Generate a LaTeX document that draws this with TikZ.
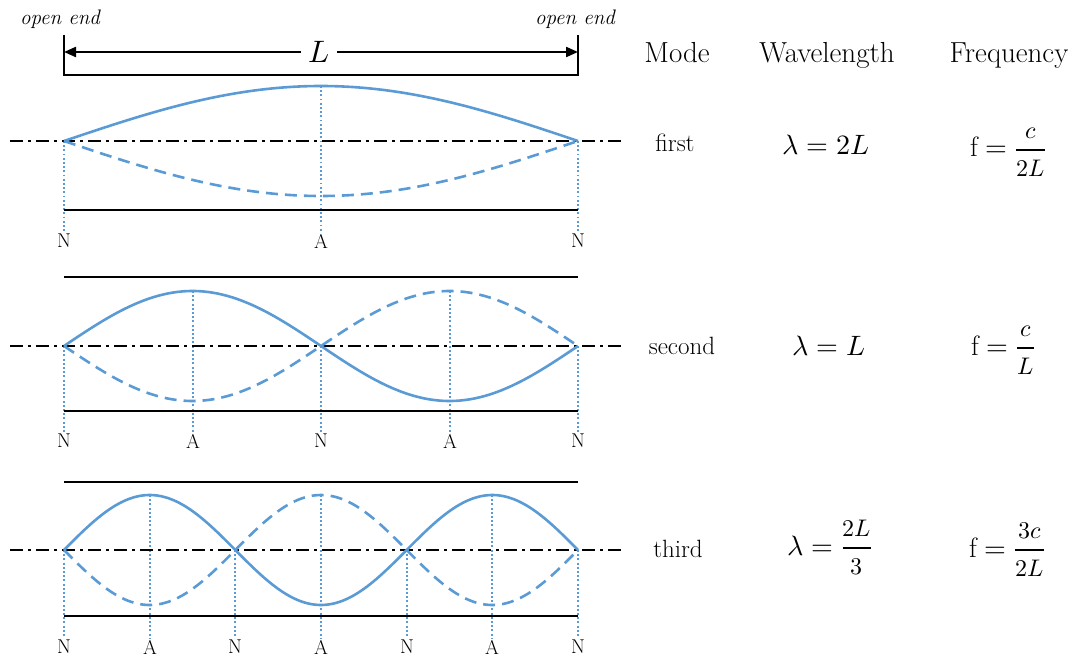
\documentclass[tikz,border=0pt]{standalone}
\usepackage{amsmath}
\usepackage{unicode-math}
\usetikzlibrary{arrows.meta}
\definecolor{wavblue}{RGB}{91,155,213}
\newcommand{\wfrac}[2]{\dfrac{\mbox{\fontsize{24}{26}\selectfont$#1$}}{\mbox{\fontsize{24}{26}\selectfont$#2$}}}
\tikzset{
  wave/.style={draw=wavblue,line width=2.6pt},
  wavedash/.style={wave,dash pattern=on 12pt off 7pt},
  axisline/.style={draw=black,line width=1.8pt,
    dash pattern=on 13pt off 5pt on 3pt off 5pt},
  tubeline/.style={draw=black,line width=2.5pt},
  guide/.style={draw=wavblue,line width=1.9pt,dash pattern=on 1.9pt off 2.3pt},
  dimline/.style={draw=black,line width=2.2pt},
  ptlabel/.style={font=\fontsize{20}{22}\selectfont,inner sep=0pt},
  endlabel/.style={font=\fontsize{21}{24}\selectfont\itshape,inner sep=0pt},
  headlabel/.style={font=\fontsize{29}{33}\selectfont,inner sep=0pt,anchor=base},
  modelabel/.style={font=\fontsize{25}{28}\selectfont,inner sep=0pt,anchor=base},
  eqlabel/.style={font=\fontsize{28}{32}\selectfont,inner sep=0pt,anchor=base},
}

\begin{document}
\begin{tikzpicture}[x=1pt,y=-1pt]
  \useasboundingbox (0,0) rectangle (1086,660);
  \node[endlabel] (lend) at (60,19) {open end};
  \node[endlabel] (rend) at (575,19) {open end};
  \coordinate (ltop) at (64,35);
  \coordinate (lbot) at (64,75);
  \coordinate (rtop) at (578,35);
  \coordinate (rbot) at (578,75);
  \coordinate (larr) at (64,52);
  \coordinate (rarr) at (578,52);
  \draw[dimline] (ltop) -- (lbot) -- (rbot) -- (rtop);
  \draw[dimline,{Triangle[length=12pt,width=10pt]}-{Triangle[length=12pt,width=10pt]}] (larr) -- (rarr);
  \node[font=\fontsize{31}{34}\selectfont,fill=white,inner xsep=7pt,inner ysep=2pt] (len) at (319,52) {$L$};
  \draw[tubeline] (64,277) -- (578,277);
  \draw[tubeline] (64,482) -- (578,482);
  \foreach \ay/\n/\bot/\lab in {141/1/210/241, 346/2/411/441, 550/3/616/647} {
    \pgfmathtruncatemacro\m{2*\n}
    \foreach \k in {0,...,\m} {
      \pgfmathsetmacro\gx{round(64+\k*514/\m)}
      \pgfmathtruncatemacro\odd{mod(\k,2)}
      \ifnum\odd=1 \def\ptname{A}\pgfmathsetmacro\gtop{\ay-55}%
      \else \def\ptname{N}\pgfmathsetmacro\gtop{\ay}\fi
      \draw[guide] (\gx,\gtop) -- (\gx,\lab-9);
      \node[ptlabel] (pt\n\k) at (\gx,\lab) {\ptname};
    }
    \draw[axisline] (10,\ay) -- (625,\ay);
    \draw[tubeline] (64,\bot) -- (578,\bot);
    \draw[wave] plot[domain=0:514,samples=90,smooth] ({64+\x},{\ay-55*sin(\x/514*180*\n)});
    \draw[wavedash] plot[domain=0:514,samples=90,smooth] ({64+\x},{\ay+55*sin(\x/514*180*\n)});
  }
  \node[headlabel] (hmode) at (677,63) {Mode};
  \node[headlabel] (hwave) at (827,63) {Wavelength};
  \node[headlabel] (hfreq) at (1009,63) {Frequency};
  \node[modelabel] (mfirst) at (675,152) {first};
  \node[modelabel] (msecond) at (682,354) {second};
  \node[modelabel] (mthird) at (678,557) {third};
  \node[eqlabel] (wfirst) at (826,155) {$\lambda=2L$};
  \node[eqlabel] (ffirst) at (1008,157) {$\mathrm{f}=\wfrac{c}{2L}$};
  \node[eqlabel] (wsecond) at (829,355) {$\lambda=L$};
  \node[eqlabel] (fsecond) at (1003,355) {$\mathrm{f}=\wfrac{c}{L}$};
  \node[eqlabel] (wthird) at (830,555) {$\lambda=\wfrac{2L}{3}$};
  \node[eqlabel] (fthird) at (1007,557) {$\mathrm{f}=\wfrac{3c}{2L}$};
\end{tikzpicture}
\end{document}
